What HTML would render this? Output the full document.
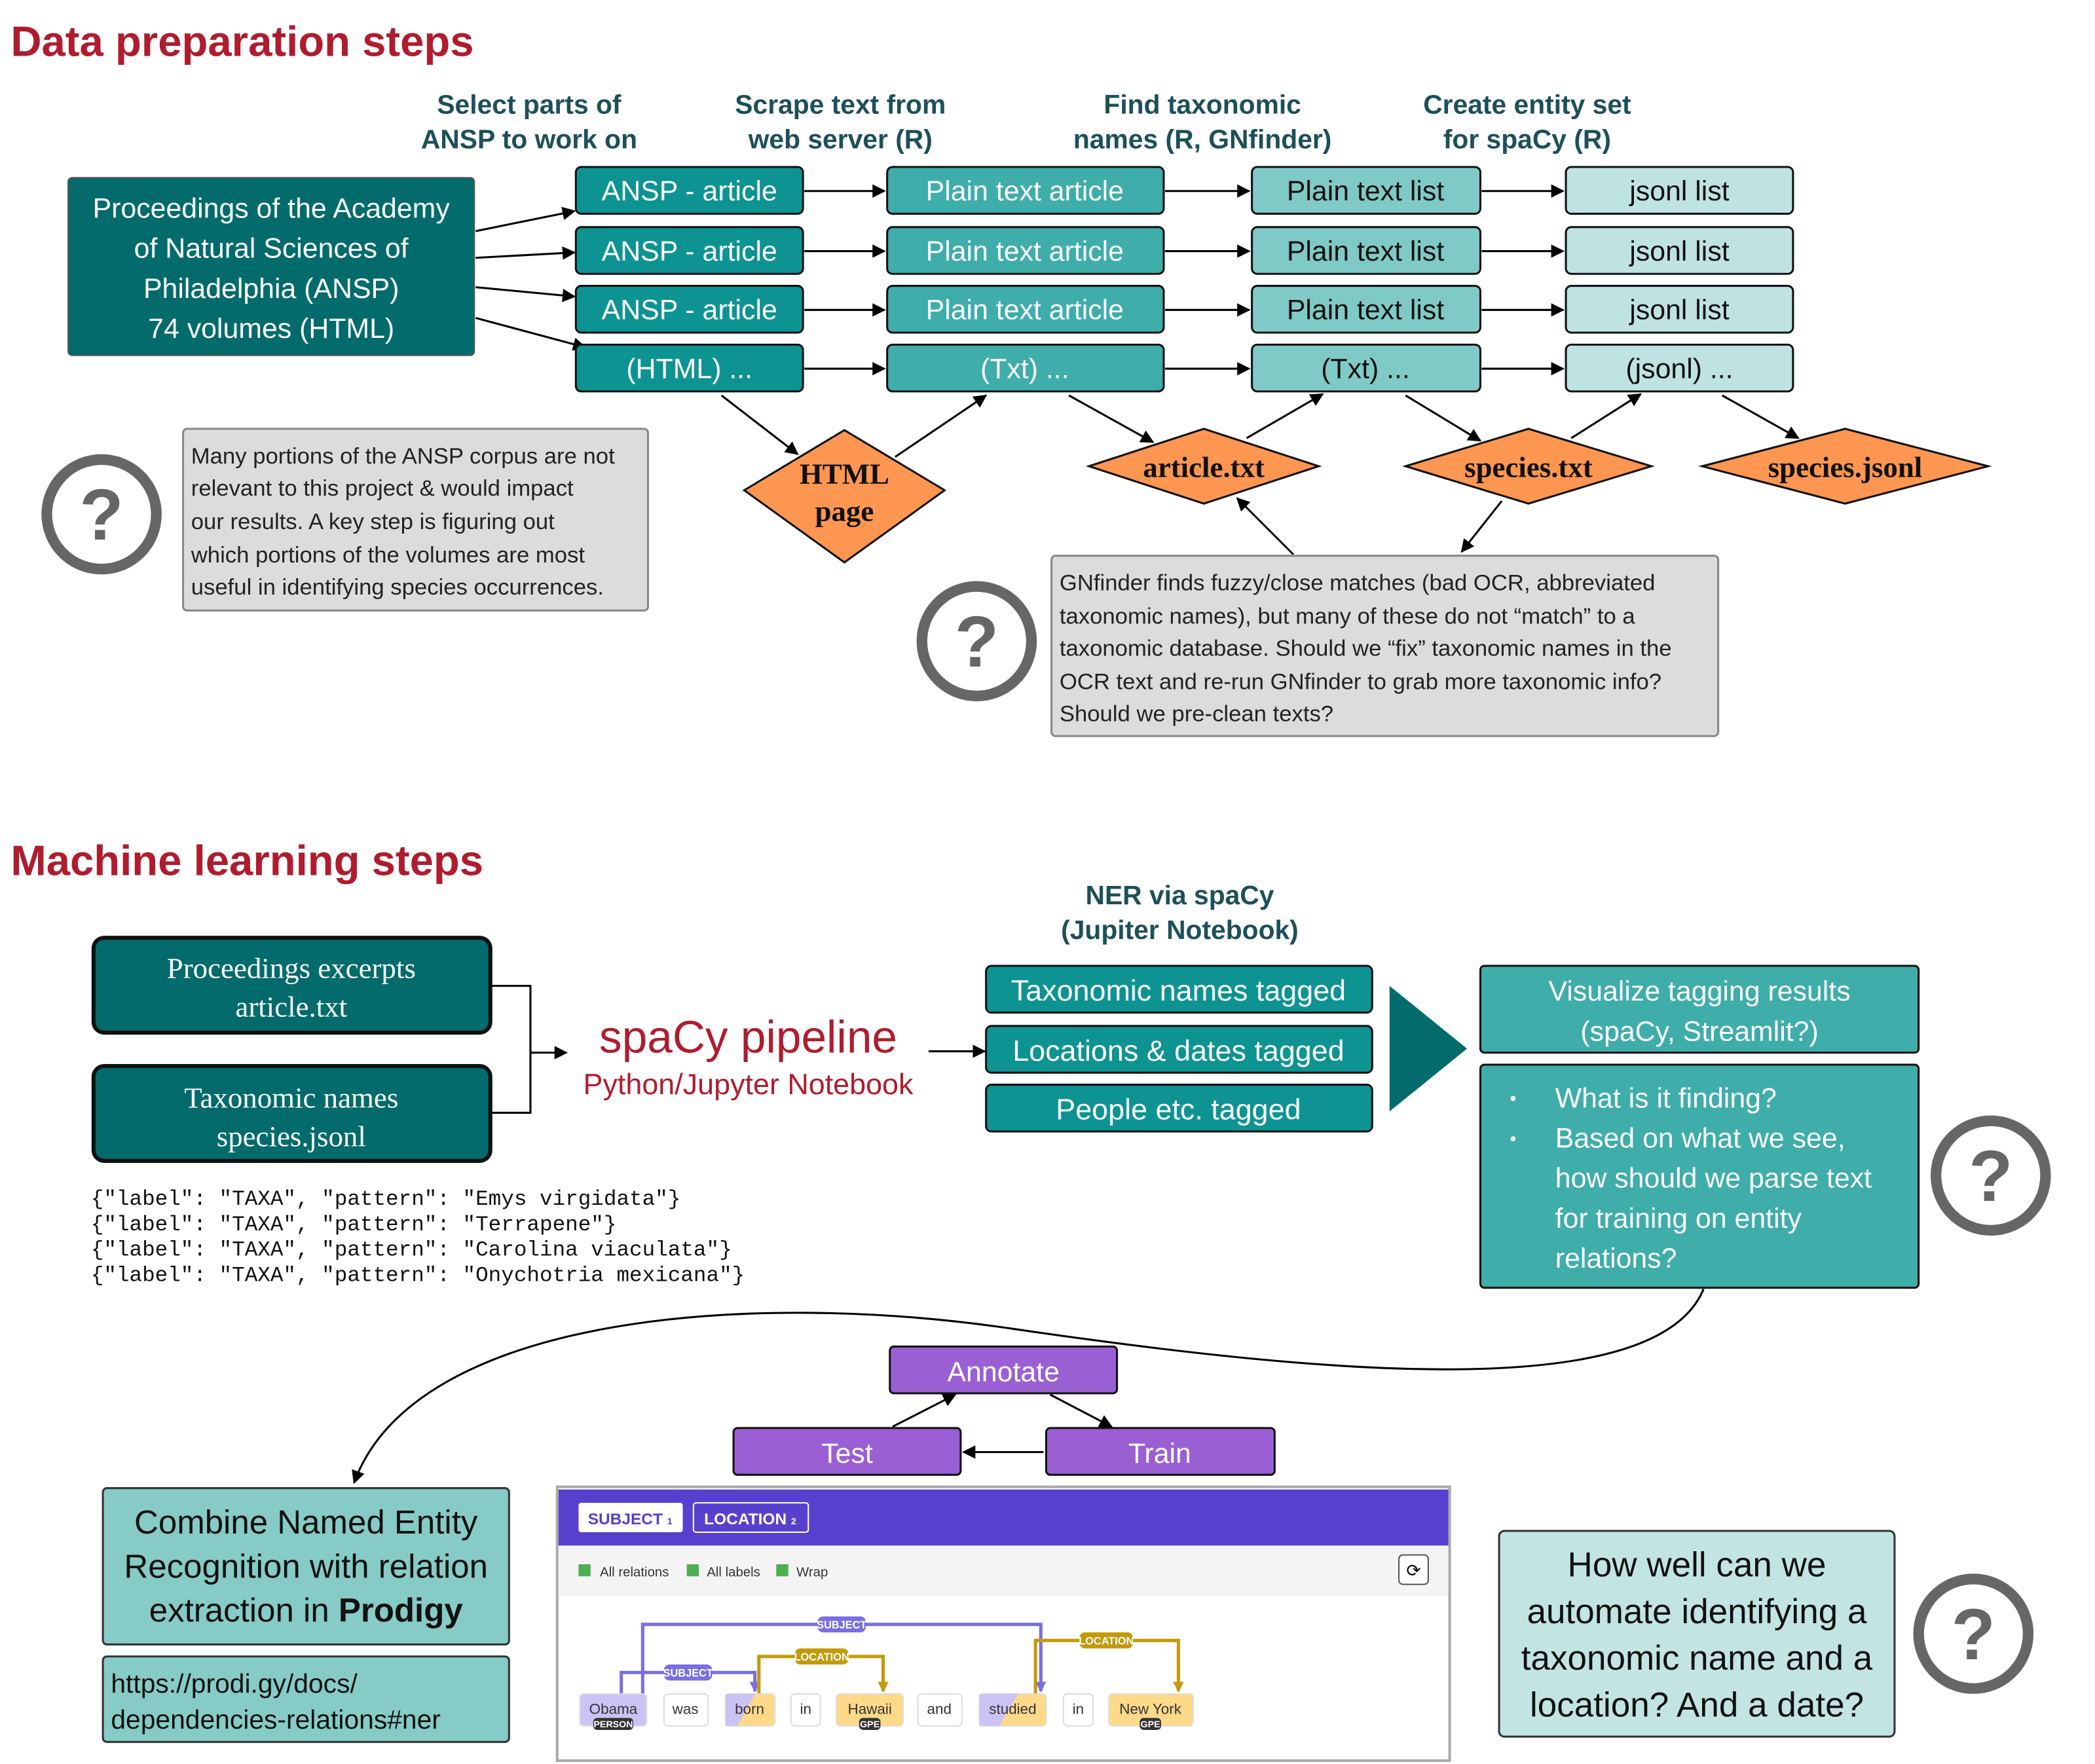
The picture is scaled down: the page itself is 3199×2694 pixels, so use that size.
<!DOCTYPE html>
<html><head><meta charset="utf-8"><style>html,body{margin:0;padding:0;background:#fff}svg{display:block}</style></head><body>
<svg width="3199" height="2694" viewBox="0 0 1568 1320.5" xmlns="http://www.w3.org/2000/svg" font-family="Liberation Sans, DejaVu Sans, sans-serif">
<defs>
<marker id="a" markerWidth="10" markerHeight="10" refX="9" refY="5" orient="auto" markerUnits="userSpaceOnUse"><path d="M0,0 L10,5 L0,10 z" fill="#000"/></marker>
<marker id="s" markerWidth="8" markerHeight="8" refX="7" refY="4" orient="auto" markerUnits="userSpaceOnUse"><path d="M0,0 L8,4 L0,8 z" fill="#7b6fe0"/></marker>
<marker id="g" markerWidth="8" markerHeight="8" refX="7" refY="4" orient="auto" markerUnits="userSpaceOnUse"><path d="M0,0 L8,4 L0,8 z" fill="#c49a0a"/></marker>
</defs>
<rect width="1568" height="1321" fill="#fff"/>
<text x="8" y="42" font-size="32" font-weight="bold" fill="#b01c2e">Data preparation steps</text>
<g font-size="20" font-weight="bold" fill="#1d5058" text-anchor="middle">
<text x="396" y="85">Select parts of</text><text x="396" y="111">ANSP to work on</text>
<text x="629" y="85">Scrape text from</text><text x="629" y="111">web server (R)</text>
<text x="900" y="85">Find taxonomic</text><text x="900" y="111">names (R, GNfinder)</text>
<text x="1143" y="85">Create entity set</text><text x="1143" y="111">for spaCy (R)</text>
</g>
<rect x="51" y="133" width="304" height="133" rx="3" fill="#036b6b" stroke="#555" stroke-width="1"/>
<g font-size="21" fill="#fff" text-anchor="middle">
<text x="203" y="163">Proceedings of the Academy</text><text x="203" y="193">of Natural Sciences of</text><text x="203" y="223">Philadelphia (ANSP)</text><text x="203" y="253">74 volumes (HTML)</text>
</g>
<g stroke="#000" stroke-width="1.5" fill="#000" marker-end="url(#a)">
<line x1="356" y1="173" x2="430" y2="158"/><line x1="356" y1="193" x2="430" y2="189"/><line x1="356" y1="215" x2="430" y2="222"/><line x1="356" y1="238" x2="438" y2="260"/>
</g>
<g stroke="#111" stroke-width="1.5" font-size="21" text-anchor="middle">
<rect x="431" y="125" width="170" height="35" rx="4" fill="#0e9393"/><rect x="664" y="125" width="207" height="35" rx="4" fill="#3fadaa"/><rect x="937" y="125" width="171" height="35" rx="4" fill="#7fcac6"/><rect x="1172" y="125" width="170" height="35" rx="4" fill="#bfe3e3"/>
<rect x="431" y="170" width="170" height="35" rx="4" fill="#0e9393"/><rect x="664" y="170" width="207" height="35" rx="4" fill="#3fadaa"/><rect x="937" y="170" width="171" height="35" rx="4" fill="#7fcac6"/><rect x="1172" y="170" width="170" height="35" rx="4" fill="#bfe3e3"/>
<rect x="431" y="214" width="170" height="35" rx="4" fill="#0e9393"/><rect x="664" y="214" width="207" height="35" rx="4" fill="#3fadaa"/><rect x="937" y="214" width="171" height="35" rx="4" fill="#7fcac6"/><rect x="1172" y="214" width="170" height="35" rx="4" fill="#bfe3e3"/>
<rect x="431" y="258" width="170" height="35" rx="4" fill="#0e9393"/><rect x="664" y="258" width="207" height="35" rx="4" fill="#3fadaa"/><rect x="937" y="258" width="171" height="35" rx="4" fill="#7fcac6"/><rect x="1172" y="258" width="170" height="35" rx="4" fill="#bfe3e3"/>
</g>
<g font-size="21" text-anchor="middle">
<g fill="#fff"><text x="516" y="150">ANSP - article</text><text x="516" y="195">ANSP - article</text><text x="516" y="239">ANSP - article</text><text x="516" y="283">(HTML) ...</text>
<text x="767" y="150">Plain text article</text><text x="767" y="195">Plain text article</text><text x="767" y="239">Plain text article</text><text x="767" y="283">(Txt) ...</text></g>
<g fill="#111"><text x="1022" y="150">Plain text list</text><text x="1022" y="195">Plain text list</text><text x="1022" y="239">Plain text list</text><text x="1022" y="283">(Txt) ...</text>
<text x="1257" y="150">jsonl list</text><text x="1257" y="195">jsonl list</text><text x="1257" y="239">jsonl list</text><text x="1257" y="283">(jsonl) ...</text></g>
</g>
<g stroke="#000" stroke-width="1.5" marker-end="url(#a)">
<line x1="602" y1="143" x2="662" y2="143"/><line x1="872" y1="143" x2="935" y2="143"/><line x1="1109" y1="143" x2="1170" y2="143"/>
<line x1="602" y1="188" x2="662" y2="188"/><line x1="872" y1="188" x2="935" y2="188"/><line x1="1109" y1="188" x2="1170" y2="188"/>
<line x1="602" y1="232" x2="662" y2="232"/><line x1="872" y1="232" x2="935" y2="232"/><line x1="1109" y1="232" x2="1170" y2="232"/>
<line x1="602" y1="276" x2="662" y2="276"/><line x1="872" y1="276" x2="935" y2="276"/><line x1="1109" y1="276" x2="1170" y2="276"/>
<line x1="540" y1="296" x2="597" y2="340"/><line x1="670" y1="342" x2="738" y2="296"/><line x1="800" y1="296" x2="863" y2="331"/><line x1="933" y1="328" x2="990" y2="295"/><line x1="1052" y1="296" x2="1108" y2="330"/><line x1="1176" y1="328" x2="1228" y2="295"/><line x1="1289" y1="296" x2="1346" y2="328"/>
<line x1="968" y1="415" x2="926" y2="373"/><line x1="1124" y1="375" x2="1094" y2="413"/>
</g>
<g fill="#fd9650" stroke="#111" stroke-width="1.5">
<polygon points="632,322 707,367 632,421 557,367"/>
<polygon points="901,321 987,349 901,377 815,349"/>
<polygon points="1144,321 1236,349 1144,377 1052,349"/>
<polygon points="1381,321 1488,349 1381,377 1274,349"/>
</g>
<g font-family="Liberation Serif, serif" font-weight="bold" font-size="22" fill="#111" text-anchor="middle">
<text x="632" y="362">HTML</text><text x="632" y="390">page</text>
<text x="901" y="357">article.txt</text><text x="1144" y="357">species.txt</text><text x="1381" y="357">species.jsonl</text>
</g>
<rect x="137" y="321" width="348" height="136" rx="3" fill="#dcdcdc" stroke="#888" stroke-width="1.5"/>
<g font-size="17" fill="#222"><text x="143" y="347">Many portions of the ANSP corpus are not</text><text x="143" y="371">relevant to this project &amp; would impact</text><text x="143" y="396">our results. A key step is figuring out</text><text x="143" y="421">which portions of the volumes are most</text><text x="143" y="445">useful in identifying species occurrences.</text></g>
<rect x="787" y="416" width="499" height="135" rx="3" fill="#dcdcdc" stroke="#888" stroke-width="1.5"/>
<g font-size="17" fill="#222"><text x="793" y="442">GNfinder finds fuzzy/close matches (bad OCR, abbreviated</text><text x="793" y="467">taxonomic names), but many of these do not “match” to a</text><text x="793" y="491">taxonomic database. Should we “fix” taxonomic names in the</text><text x="793" y="516">OCR text and re-run GNfinder to grab more taxonomic info?</text><text x="793" y="540">Should we pre-clean texts?</text></g>
<g fill="none" stroke="#666" stroke-width="8">
<circle cx="76" cy="385" r="41"/><circle cx="731" cy="480" r="41"/><circle cx="1490" cy="880" r="41"/><circle cx="1477" cy="1223" r="41"/>
</g>
<g font-size="54" font-weight="bold" fill="#666" text-anchor="middle">
<text x="76" y="404">?</text><text x="731" y="499">?</text><text x="1490" y="899">?</text><text x="1477" y="1242">?</text>
</g>
<text x="8" y="655" font-size="32" font-weight="bold" fill="#b01c2e">Machine learning steps</text>
<g font-size="20" font-weight="bold" fill="#1d5058" text-anchor="middle"><text x="883" y="677">NER via spaCy</text><text x="883" y="703">(Jupiter Notebook)</text></g>
<rect x="70" y="702" width="297" height="71" rx="8" fill="#036b6b" stroke="#111" stroke-width="3"/>
<rect x="70" y="798" width="297" height="71" rx="8" fill="#036b6b" stroke="#111" stroke-width="3"/>
<g font-family="Liberation Serif, serif" font-size="22" fill="#fff" text-anchor="middle">
<text x="218" y="732">Proceedings excerpts</text><text x="218" y="761">article.txt</text><text x="218" y="829">Taxonomic names</text><text x="218" y="858">species.jsonl</text></g>
<path d="M367,738 H397 V833 H367" fill="none" stroke="#000" stroke-width="1.5"/>
<line x1="397" y1="788" x2="424" y2="788" stroke="#000" stroke-width="1.5" marker-end="url(#a)"/>
<text x="560" y="788" font-size="34" fill="#b01c2e" text-anchor="middle">spaCy pipeline</text>
<text x="560" y="819" font-size="22" fill="#b01c2e" text-anchor="middle">Python/Jupyter Notebook</text>
<line x1="695" y1="787" x2="737" y2="787" stroke="#000" stroke-width="1.5" marker-end="url(#a)"/>
<g fill="#0e9393" stroke="#111" stroke-width="1.5"><rect x="738" y="723" width="289" height="35" rx="4"/><rect x="738" y="768" width="289" height="35" rx="4"/><rect x="738" y="812" width="289" height="35" rx="4"/></g>
<g font-size="22" fill="#fff" text-anchor="middle"><text x="882" y="749">Taxonomic names tagged</text><text x="882" y="794">Locations &amp; dates tagged</text><text x="882" y="838">People etc. tagged</text></g>
<polygon points="1040,738 1040,832 1098,785" fill="#036b6b"/>
<rect x="1108" y="723" width="328" height="65" rx="3" fill="#3fadaa" stroke="#111" stroke-width="1.5"/>
<rect x="1108" y="797" width="328" height="167" rx="3" fill="#3fadaa" stroke="#111" stroke-width="1.5"/>
<g font-size="21" fill="#fff"><text x="1272" y="749" text-anchor="middle">Visualize tagging results</text><text x="1272" y="779" text-anchor="middle">(spaCy, Streamlit?)</text>
<text x="1130" y="827" font-size="14">•</text><text x="1130" y="857" font-size="14">•</text>
<text x="1164" y="829">What is it finding?</text><text x="1164" y="859">Based on what we see,</text><text x="1164" y="889">how should we parse text</text><text x="1164" y="919">for training on entity</text><text x="1164" y="949">relations?</text></g>
<g font-family="Liberation Mono, monospace" font-size="16" fill="#111"><text x="68" y="902">{"label": "TAXA", "pattern": "Emys virgidata"}</text><text x="68" y="921">{"label": "TAXA", "pattern": "Terrapene"}</text><text x="68" y="940">{"label": "TAXA", "pattern": "Carolina viaculata"}</text><text x="68" y="959">{"label": "TAXA", "pattern": "Onychotria mexicana"}</text></g>
<path d="M1275,965 C1240,1050 1000,1030 760,995 C560,965 310,985 265,1110" fill="none" stroke="#000" stroke-width="1.5" marker-end="url(#a)"/>
<g fill="#9a5fd3" stroke="#111" stroke-width="1.5"><rect x="666" y="1008" width="170" height="35" rx="3"/><rect x="549" y="1069" width="170" height="35" rx="3"/><rect x="783" y="1069" width="171" height="35" rx="3"/></g>
<g font-size="21" fill="#fff" text-anchor="middle"><text x="751" y="1034">Annotate</text><text x="634" y="1095">Test</text><text x="868" y="1095">Train</text></g>
<g stroke="#000" stroke-width="1.5" marker-end="url(#a)"><line x1="668" y1="1068" x2="715" y2="1044"/><line x1="786" y1="1044" x2="832" y2="1068"/><line x1="781" y1="1087" x2="721" y2="1087"/></g>
<rect x="77" y="1114" width="304" height="117" rx="3" fill="#86cbc6" stroke="#333" stroke-width="1.5"/>
<g font-size="25" fill="#111" text-anchor="middle"><text x="229" y="1148">Combine Named Entity</text><text x="229" y="1181">Recognition with relation</text><text x="229" y="1214">extraction in <tspan font-weight="bold">Prodigy</tspan></text></g>
<rect x="77" y="1240" width="304" height="64" rx="3" fill="#86cbc6" stroke="#333" stroke-width="1.5"/>
<g font-size="20" fill="#111"><text x="83" y="1267">https://prodi.gy/docs/</text><text x="83" y="1294">dependencies-relations#ner</text></g>
<rect x="1122" y="1146" width="296" height="154" rx="4" fill="#c2e5e3" stroke="#333" stroke-width="1.5"/>
<g font-size="26" fill="#111" text-anchor="middle"><text x="1270" y="1180">How well can we</text><text x="1270" y="1215">automate identifying a</text><text x="1270" y="1250">taxonomic name and a</text><text x="1270" y="1285">location? And a date?</text></g>
<rect x="417" y="1113" width="668" height="205" fill="#fff" stroke="#aaa" stroke-width="2"/>
<rect x="418" y="1115" width="666" height="42" fill="#5840ce"/>
<rect x="418" y="1157" width="666" height="38" fill="#f4f4f4"/>
<rect x="433" y="1125" width="78" height="22" rx="2" fill="#fff"/>
<rect x="519" y="1125" width="86" height="22" rx="2" fill="none" stroke="#fff" stroke-width="1"/>
<g font-size="12" font-weight="bold"><text x="440" y="1141" fill="#5840ce">SUBJECT <tspan font-size="7">1</tspan></text><text x="527" y="1141" fill="#fff">LOCATION <tspan font-size="7">2</tspan></text></g>
<g font-size="10" fill="#333"><rect x="433" y="1171" width="9" height="9" fill="#4caf50"/><text x="449" y="1180">All relations</text><rect x="514" y="1171" width="9" height="9" fill="#4caf50"/><text x="529" y="1180">All labels</text><rect x="581" y="1171" width="9" height="9" fill="#4caf50"/><text x="596" y="1180">Wrap</text></g>
<rect x="1047" y="1164" width="22" height="22" rx="3" fill="#fff" stroke="#555"/><text x="1058" y="1180" font-size="13" text-anchor="middle">⟳</text>
<g fill="none" stroke-width="2.5">
<path d="M481,1268 V1216 H779 V1266" stroke="#7b6fe0" marker-end="url(#s)"/>
<path d="M465,1268 V1252 H565 V1266" stroke="#7b6fe0" marker-end="url(#s)"/>
<path d="M568,1268 V1240 H661 V1266" stroke="#c49a0a" marker-end="url(#g)"/>
<path d="M775,1268 V1228 H882 V1266" stroke="#c49a0a" marker-end="url(#g)"/>
</g>
<g font-size="8" font-weight="bold" fill="#fff" text-anchor="middle">
<rect x="612" y="1210" width="36" height="12" rx="4" fill="#7b6fe0"/><text x="630" y="1219">SUBJECT</text>
<rect x="497" y="1246" width="36" height="12" rx="4" fill="#7b6fe0"/><text x="515" y="1255">SUBJECT</text>
<rect x="595" y="1234" width="40" height="12" rx="4" fill="#c49a0a"/><text x="615" y="1243">LOCATION</text>
<rect x="808" y="1222" width="40" height="12" rx="4" fill="#c49a0a"/><text x="828" y="1231">LOCATION</text>
</g>
<g stroke="#ddd" stroke-width="1">
<rect x="434" y="1268" width="50" height="24" rx="3" fill="#cbc3f3"/>
<rect x="497" y="1268" width="33" height="24" rx="3" fill="#fff"/>
<rect x="543" y="1268" width="37" height="24" rx="3" fill="#ffd98a"/>
<rect x="592" y="1268" width="22" height="24" rx="3" fill="#fff"/>
<rect x="626" y="1268" width="50" height="24" rx="3" fill="#ffd98a"/>
<rect x="687" y="1268" width="33" height="24" rx="3" fill="#fff"/>
<rect x="733" y="1268" width="50" height="24" rx="3" fill="#ffd98a"/>
<rect x="796" y="1268" width="22" height="24" rx="3" fill="#fff"/>
<rect x="830" y="1268" width="63" height="24" rx="3" fill="#ffd98a"/>
</g>
<polygon points="543,1268 565,1268 552,1292 543,1292" fill="#cbc3f3"/>
<polygon points="733,1268 762,1268 748,1292 733,1292" fill="#cbc3f3"/>
<g font-size="11" fill="#333" text-anchor="middle">
<text x="459" y="1283">Obama</text><text x="513" y="1283">was</text><text x="561" y="1283">born</text><text x="603" y="1283">in</text><text x="651" y="1283">Hawaii</text><text x="703" y="1283">and</text><text x="758" y="1283">studied</text><text x="807" y="1283">in</text><text x="861" y="1283">New York</text></g>
<g font-size="7" font-weight="bold" fill="#fff" text-anchor="middle">
<rect x="444" y="1286" width="30" height="9" rx="3" fill="#333"/><text x="459" y="1293">PERSON</text>
<rect x="643" y="1286" width="16" height="9" rx="3" fill="#333"/><text x="651" y="1293">GPE</text>
<rect x="853" y="1286" width="16" height="9" rx="3" fill="#333"/><text x="861" y="1293">GPE</text></g>
</svg>
</body></html>
